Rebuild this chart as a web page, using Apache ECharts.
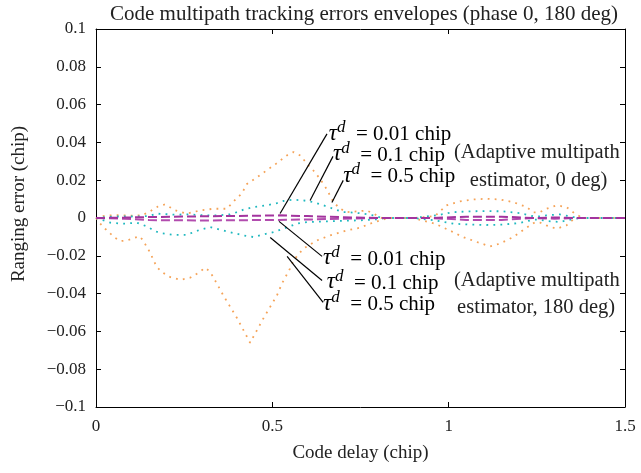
<!DOCTYPE html>
<html><head><meta charset="utf-8">
<script src="https://cdn.jsdelivr.net/npm/echarts@6/dist/echarts.min.js"></script>
<style>html,body{margin:0;padding:0;background:#fff}#c{width:641px;height:473px}</style>
</head><body><div id="c"></div>
<script>
// ---- data (chip) ----
var orangeUpX = [0, 0.02, 0.041, 0.07, 0.1, 0.13, 0.149, 0.175, 0.196, 0.225, 0.258, 0.295, 0.333, 0.371, 0.40, 0.413, 0.428, 0.456, 0.484, 0.513, 0.541, 0.56, 0.58, 0.598, 0.617, 0.635, 0.655, 0.673, 0.692, 0.711, 0.74, 0.768, 0.79, 0.81, 0.85, 0.9, 0.961, 0.994, 1.032, 1.07, 1.108, 1.145, 1.183, 1.221, 1.24, 1.258, 1.277, 1.306, 1.334, 1.358, 1.38, 1.5];
var orangeUpY = [0, 0.001, 0.0014, 0.0015, 0.0012, 0.0014, 0.003, 0.006, 0.0072, 0.004, 0.0023, 0.004, 0.0049, 0.0049, 0.0107, 0.0128, 0.018, 0.0215, 0.0252, 0.029, 0.0331, 0.0349, 0.033, 0.0287, 0.025, 0.0208, 0.015, 0.0084, 0.005, 0.0031, 0.0035, 0.004, 0.002, 0, 0, 0, 0.001, 0.0067, 0.0088, 0.0098, 0.0102, 0.0098, 0.0084, 0.0058, 0.003, 0.003, 0.0049, 0.0067, 0.0058, 0.0023, 0, 0];
var orangeLoX = [0, 0.012, 0.026, 0.041, 0.055, 0.069, 0.088, 0.107, 0.124, 0.135, 0.144, 0.154, 0.163, 0.173, 0.187, 0.211, 0.239, 0.267, 0.286, 0.31, 0.324, 0.343, 0.361, 0.40, 0.437, 0.475, 0.513, 0.527, 0.55, 0.56, 0.588, 0.626, 0.664, 0.711, 0.749, 0.777, 0.805, 0.83, 0.9, 0.961, 1.003, 1.041, 1.08, 1.117, 1.145, 1.183, 1.221, 1.245, 1.26, 1.277, 1.306, 1.334, 1.358, 1.38, 1.5];
var orangeLoY = [0, -0.003, -0.0057, -0.0083, -0.0106, -0.0122, -0.0119, -0.0106, -0.0097, -0.0122, -0.0154, -0.0184, -0.0224, -0.026, -0.0286, -0.0313, -0.0327, -0.0316, -0.0295, -0.0263, -0.0286, -0.0348, -0.041, -0.053, -0.066, -0.053, -0.041, -0.0348, -0.0268, -0.0224, -0.0162, -0.0119, -0.0092, -0.0066, -0.0051, -0.003, -0.0013, 0, 0, -0.003, -0.0066, -0.0101, -0.0127, -0.015, -0.0136, -0.0101, -0.0051, -0.0022, -0.0025, -0.0039, -0.0057, -0.0039, 0, 0, 0];
var cyanUpX = [0, 0.05, 0.1, 0.15, 0.173, 0.22, 0.267, 0.305, 0.343, 0.38, 0.40, 0.418, 0.447, 0.484, 0.513, 0.531, 0.56, 0.588, 0.617, 0.645, 0.673, 0.701, 0.72, 0.75, 0.787, 0.81, 0.9, 0.966, 1.013, 1.06, 1.108, 1.155, 1.202, 1.24, 1.258, 1.277, 1.315, 1.353, 1.38, 1.5];
var cyanUpY = [0, 0.0008, 0.0008, 0.001, 0.0023, 0.0018, 0.0019, 0.0014, 0.0014, 0.0019, 0.0031, 0.0044, 0.0058, 0.0067, 0.0079, 0.009, 0.0097, 0.0093, 0.0084, 0.0067, 0.0049, 0.0031, 0.003, 0.0025, 0.0014, 0, 0, 0.0014, 0.0031, 0.0035, 0.0037, 0.0035, 0.0026, 0.0009, 0.0008, 0.0014, 0.0019, 0.0005, 0, 0];
var cyanLoX = [0, 0.022, 0.041, 0.078, 0.116, 0.149, 0.163, 0.182, 0.22, 0.258, 0.277, 0.295, 0.324, 0.352, 0.38, 0.418, 0.447, 0.475, 0.503, 0.531, 0.55, 0.569, 0.598, 0.65, 0.7, 0.75, 0.796, 0.82, 0.9, 0.966, 1.013, 1.06, 1.108, 1.155, 1.202, 1.24, 1.258, 1.277, 1.315, 1.353, 1.38, 1.5];
var cyanLoY = [0, -0.0013, -0.0025, -0.003, -0.0025, -0.0048, -0.0066, -0.008, -0.0089, -0.0089, -0.0075, -0.0062, -0.0048, -0.0062, -0.0075, -0.0092, -0.0101, -0.0087, -0.0075, -0.0057, -0.0044, -0.003, -0.0022, -0.0018, -0.0015, -0.0012, -0.0007, 0, 0, -0.0014, -0.003, -0.0035, -0.0037, -0.0035, -0.0026, -0.0009, -0.0008, -0.0016, -0.0021, -0.0005, 0, 0];
var purpleX = [0, 0.08, 0.15, 0.3, 0.45, 0.52, 0.6, 0.7, 0.8, 0.95, 1.05, 1.15, 1.24, 1.3, 1.36, 1.5];
var purpleUpY = [0, 0.0002, 0.0005, 0.0009, 0.0012, 0.0014, 0.001, 0.0004, 0, 0, 0.0007, 0.0007, 0, 0.0003, 0, 0];
var purpleLoY = [0, -0.0004, -0.0011, -0.0013, -0.0011, -0.001, -0.0008, -0.0004, 0, 0, -0.001, -0.001, 0, -0.0004, 0, 0];

// annotation leader lines [x1,y1,x2,y2] in data units
var leaders = [
  [0.522, 0.0024, 0.655, 0.0445],
  [0.607, 0.0093, 0.672, 0.0326],
  [0.669, 0.0082, 0.701, 0.0199],
  [0.519, -0.0018, 0.641, -0.0203],
  [0.494, -0.0103, 0.641, -0.0331],
  [0.542, -0.0203, 0.644, -0.0447]
];
// tau labels: value text, anchor (left x, middle y) in data units
var tauLabels = ['0.01', '0.1', '0.5', '0.01', '0.1', '0.5'];
var tauX = [0.66, 0.672, 0.701, 0.644, 0.654, 0.644];
var tauY = [0.0455, 0.0345, 0.0233, -0.0206, -0.0333, -0.0445];
var noteTexts = ['(Adaptive multipath', 'estimator, 0 deg)', '(Adaptive multipath', 'estimator, 180 deg)'];
var noteX = [1.25, 1.255, 1.25, 1.248];
var noteY = [0.0345, 0.0198, -0.0333, -0.0472];

function pairs(xs, ys) { return xs.map(function (v, i) { return [v, ys[i]]; }); }

var SERIF = '"Liberation Serif", "DejaVu Serif", serif';
var chart = echarts.init(document.getElementById('c'));
var orange = '#f5a358', cyan = '#1fb8bf', purple = '#a3349e', purple2 = '#b24cae';

function dotted(name, data, color) {
  return { name: name, type: 'line', data: data, showSymbol: false, smooth: false, z: 2,
    lineStyle: { color: color, width: 1.8, type: [1.8, 5.2], cap: 'butt' } };
}
function dashed(name, data, color) {
  return { name: name, type: 'line', data: data, showSymbol: false, z: 3,
    lineStyle: { color: color, width: 2, type: [9, 4] } };
}

function axisCommon() {
  return {
    axisLine: { show: true, onZero: false, lineStyle: { color: '#000', width: 1 } },
    axisTick: { show: true, inside: true, length: 5, lineStyle: { color: '#000' } },
    splitLine: { show: false }
  };
}

var option = {
  animation: false,
  backgroundColor: '#fff',
  grid: { left: 96, right: 16, top: 29, bottom: 66, containLabel: false },
  xAxis: [
    Object.assign({ type: 'value', min: 0, max: 1.5, interval: 0.5, position: 'bottom',
      name: 'Code delay (chip)', nameLocation: 'middle', nameGap: 37,
      nameTextStyle: { fontFamily: SERIF, fontSize: 19, color: '#222' },
      axisLabel: { fontFamily: SERIF, fontSize: 17, color: '#222', margin: 11,
        formatter: function (v) { return String(parseFloat(v.toFixed(2))); } } }, axisCommon()),
    Object.assign({ type: 'value', min: 0, max: 1.5, interval: 0.5, position: 'top',
      axisLabel: { show: false } }, axisCommon())
  ],
  yAxis: [
    Object.assign({ type: 'value', min: -0.1, max: 0.1, interval: 0.02, position: 'left',
      axisLabel: { fontFamily: SERIF, fontSize: 17, color: '#222', margin: 10,
        formatter: function (v) { var s = String(parseFloat(v.toFixed(2))); return s.replace('-', '\u2212'); } } }, axisCommon()),
    Object.assign({ type: 'value', min: -0.1, max: 0.1, interval: 0.02, position: 'right',
      axisLabel: { show: false } }, axisCommon())
  ],
  series: [
    dotted('tau 0.5 0deg', pairs(orangeUpX, orangeUpY), orange),
    dotted('tau 0.5 180deg', pairs(orangeLoX, orangeLoY), orange),
    dotted('tau 0.1 0deg', pairs(cyanUpX, cyanUpY), cyan),
    dotted('tau 0.1 180deg', pairs(cyanLoX, cyanLoY), cyan),
    dashed('tau 0.01 180deg', pairs(purpleX, purpleLoY), purple2),
    Object.assign(dashed('tau 0.01 0deg', pairs(purpleX, purpleUpY), purple), {
      markLine: { silent: true, symbol: ['none', 'none'], label: { show: false },
        lineStyle: { color: '#000', width: 1.2, type: 'solid' },
        data: leaders.map(function (l) { return [{ coord: [l[0], l[1]] }, { coord: [l[2], l[3]] }]; }) }
    })
  ]
};
chart.setOption(option);

var rich = {
  t: { fontFamily: SERIF, fontStyle: 'italic', fontSize: 23, color: '#222', lineHeight: 26, verticalAlign: 'bottom' },
  s: { fontFamily: SERIF, fontStyle: 'italic', fontSize: 17, color: '#222', lineHeight: 26, verticalAlign: 'top' },
  n: { fontFamily: SERIF, fontSize: 21, color: '#222', lineHeight: 26, verticalAlign: 'bottom' }
};
var g = [
  { type: 'text', style: { text: 'Code multipath tracking errors envelopes (phase 0, 180 deg)',
    x: 364, y: 14, align: 'center', verticalAlign: 'middle', fontFamily: SERIF, fontSize: 21, fill: '#222' } },
  { type: 'text', x: 19, y: 204, rotation: Math.PI / 2, style: { text: 'Ranging error (chip)',
    align: 'center', verticalAlign: 'middle', fontFamily: SERIF, fontSize: 19, fill: '#222' } }
];
for (var i = 0; i < tauLabels.length; i++) {
  var p = chart.convertToPixel({ gridIndex: 0 }, [tauX[i], tauY[i]]);
  g.push({ type: 'text', x: p[0], y: p[1], style: {
    text: '{t|\u03c4}{s|d}{n|  = ' + tauLabels[i] + ' chip}', rich: rich,
    verticalAlign: 'middle', align: 'left' } });
}
for (var j = 0; j < noteTexts.length; j++) {
  var q = chart.convertToPixel({ gridIndex: 0 }, [noteX[j], noteY[j]]);
  g.push({ type: 'text', x: q[0], y: q[1], style: { text: noteTexts[j], fontFamily: SERIF, fontSize: 20.5,
    fill: '#222', align: 'center', verticalAlign: 'middle' } });
}
chart.setOption({ graphic: g });
</script></body></html>
